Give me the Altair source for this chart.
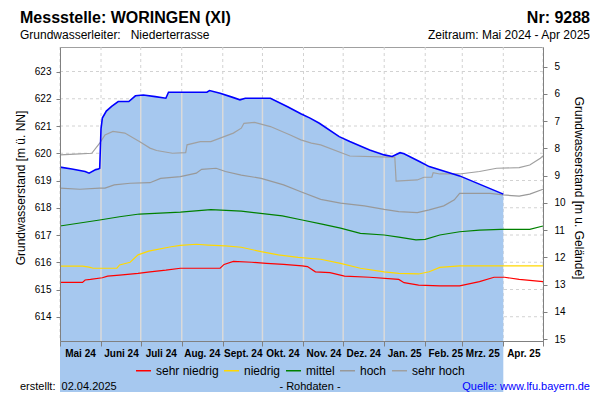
import json
import altair as alt
import numpy as np
import pandas as pd

FONT = "Liberation Sans"

# ---------------- data ----------------
GROUND_LEVEL = 628.18          # m ü. NN  (Geländehöhe)
Y_MIN, Y_MAX = 613.11, 623.90
Y_TICKS = [614, 615, 616, 617, 618, 619, 620, 621, 622, 623]
DEPTH_TICKS = [5, 6, 7, 8, 9, 10, 11, 12, 13, 14, 15]

MONTH_TICKS = ["2024-05-01", "2024-06-01", "2024-07-01", "2024-08-01", "2024-09-01",
               "2024-10-01", "2024-11-01", "2024-12-01", "2025-01-01", "2025-02-01",
               "2025-03-01", "2025-04-01", "2025-05-01"]
MONTH_ABBR = ["Jan.", "Feb.", "Mrz.", "Apr.", "Mai", "Juni", "Juli", "Aug.",
              "Sept.", "Okt.", "Nov.", "Dez."]

# measured groundwater level (blue)
mess_dates = ["2024-05-01", "2024-05-10", "2024-05-20", "2024-05-23", "2024-05-28",
              "2024-05-30", "2024-05-31", "2024-06-01", "2024-06-02", "2024-06-05",
              "2024-06-09", "2024-06-14", "2024-06-22", "2024-06-27", "2024-07-03",
              "2024-07-12", "2024-07-20", "2024-07-22", "2024-08-20", "2024-08-22",
              "2024-08-30", "2024-09-08", "2024-09-14", "2024-09-18", "2024-10-07",
              "2024-10-20", "2024-10-30", "2024-11-06", "2024-11-13", "2024-11-28",
              "2024-12-06", "2024-12-21", "2025-01-01", "2025-01-07", "2025-01-13",
              "2025-01-16", "2025-01-28", "2025-02-04", "2025-02-27", "2025-04-01"]
mess_values = [619.49, 619.42, 619.33, 619.27, 619.40,
               619.42, 619.45, 620.90, 621.29, 621.55,
               621.72, 621.90, 621.90, 622.11, 622.14,
               622.08, 622.02, 622.24, 622.24, 622.30,
               622.20, 622.06, 621.96, 622.02, 622.02,
               621.71, 621.45, 621.29, 621.10, 620.61,
               620.43, 620.12, 619.94, 619.88, 620.02,
               619.98, 619.69, 619.51, 619.17, 618.50]

SERIES = ["sehr niedrig", "niedrig", "mittel", "hoch", "sehr hoch"]
SERIES_COLORS = ["#ff0000", "#ffd800", "#008000", "#999999", "#a0a0a0"]

sn_dates = ["2024-05-01", "2024-05-18", "2024-05-20", "2024-05-24", "2024-06-02", "2024-06-06",
            "2024-06-15", "2024-06-29", "2024-07-08", "2024-07-20", "2024-07-31", "2024-08-30",
            "2024-09-02", "2024-09-09", "2024-09-23", "2024-10-04", "2024-10-17", "2024-10-31",
            "2024-11-04", "2024-11-10", "2024-11-21", "2024-12-02", "2024-12-21", "2025-01-12",
            "2025-01-16", "2025-01-27", "2025-02-12", "2025-02-27", "2025-03-14", "2025-03-25",
            "2025-04-02", "2025-04-13", "2025-05-01"]
sn_values = [615.26, 615.26, 615.35, 615.37, 615.43, 615.49,
             615.53, 615.59, 615.65, 615.71, 615.78, 615.78,
             615.92, 616.03, 616.00, 615.96, 615.92, 615.87,
             615.84, 615.65, 615.62, 615.49, 615.45, 615.37,
             615.25, 615.16, 615.13, 615.13, 615.29, 615.45,
             615.45, 615.37, 615.29]

n_dates = ["2024-05-01", "2024-05-18", "2024-05-23", "2024-05-26", "2024-06-13", "2024-06-15",
           "2024-06-23", "2024-06-29", "2024-07-07", "2024-07-24", "2024-07-31", "2024-08-12",
           "2024-08-21", "2024-09-03", "2024-09-15", "2024-09-30", "2024-10-13", "2024-10-28",
           "2024-11-14", "2024-11-29", "2024-12-14", "2025-01-01", "2025-01-12", "2025-01-27",
           "2025-02-04", "2025-02-12", "2025-02-27", "2025-05-01"]
n_values = [615.86, 615.86, 615.82, 615.78, 615.78, 615.90,
            616.00, 616.27, 616.41, 616.57, 616.62, 616.66,
            616.63, 616.60, 616.55, 616.39, 616.27, 616.18,
            616.11, 615.96, 615.78, 615.65, 615.59, 615.57,
            615.65, 615.81, 615.87, 615.87]

m_dates = ["2024-05-01", "2024-05-31", "2024-06-15", "2024-06-30", "2024-07-31", "2024-08-23",
           "2024-09-15", "2024-10-16", "2024-10-31", "2024-11-15", "2024-11-29", "2024-12-14",
           "2025-01-01", "2025-01-12", "2025-01-25", "2025-02-01", "2025-02-12", "2025-02-27",
           "2025-03-14", "2025-03-30", "2025-04-21", "2025-05-01"]
m_values = [617.33, 617.55, 617.67, 617.77, 617.84, 617.93,
            617.88, 617.70, 617.55, 617.40, 617.25, 617.06,
            617.00, 616.92, 616.82, 616.84, 617.00, 617.12,
            617.18, 617.21, 617.21, 617.33]

h_dates = ["2024-05-01", "2024-05-16", "2024-05-31", "2024-06-04", "2024-06-11", "2024-06-23",
           "2024-07-08", "2024-07-16", "2024-07-31", "2024-08-12", "2024-08-16", "2024-08-27",
           "2024-09-03", "2024-09-15", "2024-09-30", "2024-10-17", "2024-10-30", "2024-11-14",
           "2024-11-29", "2024-12-17", "2025-01-01", "2025-01-12", "2025-01-26", "2025-02-04",
           "2025-02-15", "2025-02-23", "2025-02-27", "2025-03-22", "2025-04-01", "2025-04-13",
           "2025-04-21", "2025-05-01"]
h_values = [618.72, 618.68, 618.72, 618.72, 618.84, 618.90,
            618.92, 619.08, 619.14, 619.27, 619.41, 619.45,
            619.33, 619.20, 619.08, 618.84, 618.59, 618.31,
            618.17, 618.07, 617.94, 617.86, 617.82, 617.92,
            618.07, 618.29, 618.53, 618.53, 618.47, 618.43,
            618.50, 618.68]

sh_dates = ["2024-05-01", "2024-05-16", "2024-05-25", "2024-05-31", "2024-06-04", "2024-06-10",
            "2024-06-19", "2024-06-30", "2024-07-08", "2024-07-13", "2024-07-25", "2024-08-04",
            "2024-08-05", "2024-08-15", "2024-08-23", "2024-09-09", "2024-09-15", "2024-09-17",
            "2024-09-25", "2024-10-07", "2024-10-22", "2024-10-30", "2024-11-07", "2024-11-14",
            "2024-12-06", "2025-01-05", "2025-01-09", "2025-01-10", "2025-01-26", "2025-01-31",
            "2025-02-06", "2025-02-07", "2025-02-12", "2025-02-27", "2025-03-14", "2025-03-27",
            "2025-04-13", "2025-04-21", "2025-04-29", "2025-05-01"]
sh_values = [619.94, 619.98, 620.00, 620.37, 620.67, 620.80,
             620.74, 620.43, 620.19, 620.10, 620.00, 620.02,
             620.31, 620.43, 620.43, 620.74, 620.92, 621.10,
             621.13, 620.98, 620.67, 620.49, 620.37, 620.31,
             619.90, 619.86, 619.86, 618.98, 619.02, 619.12,
             619.12, 619.29, 619.24, 619.24, 619.33, 619.45,
             619.47, 619.57, 619.82, 619.90]

# ---------------- tables ----------------
mess = pd.DataFrame({"date": pd.to_datetime(mess_dates), "level": mess_values})
mess["depth"] = GROUND_LEVEL - mess["level"]

stat_parts = []
for name, d, v in zip(SERIES, [sn_dates, n_dates, m_dates, h_dates, sh_dates],
                      [sn_values, n_values, m_values, h_values, sh_values]):
    stat_parts.append(pd.DataFrame({"serie": name, "date": pd.to_datetime(d), "level": v}))
stats = pd.concat(stat_parts, ignore_index=True)

month_dt = pd.to_datetime(MONTH_TICKS)
grid_x = pd.DataFrame({"date": month_dt})
grid_y = pd.DataFrame({"level": Y_TICKS})

# light month separators drawn over the filled area up to the measured level
t0 = mess["date"].min()
mday = (mess["date"] - t0).dt.days.values
inside = month_dt[(month_dt > mess["date"].min()) & (month_dt < mess["date"].max())]
sep = pd.DataFrame({"date": inside,
                    "level": np.interp((inside - t0).days.values, mday, mess["level"].values)})

ONE = pd.DataFrame({"k": [0]})

# ---------------- encodings ----------------
def dt(s):
    t = pd.Timestamp(s)
    return alt.DateTime(year=t.year, month=t.month, date=t.day)

label_expr = ("month(datum.value) == 4 && year(datum.value) == 2025 ? '' : "
              + json.dumps(MONTH_ABBR) + "[month(datum.value)] + ' ' + timeFormat(datum.value, '%y')")

X_AXIS = alt.Axis(values=[dt(s) for s in MONTH_TICKS], labelExpr=label_expr, labelOffset=20,
                  labelFontWeight="bold", labelFontSize=10, labelColor="#000000", labelFont=FONT,
                  tickSize=5, tickColor="#808080", domainColor="#808080", labelPadding=2,
                  grid=False, labelOverlap=False, labelFlush=False, labelAngle=0, zindex=1)
X_SCALE = alt.Scale(domain=[dt(MONTH_TICKS[0]), dt(MONTH_TICKS[-1])])

Y_AXIS = alt.Axis(values=Y_TICKS, tickSize=4, labelPadding=5, labelFontSize=10,
                  labelColor="#000000", labelFont=FONT, tickColor="#808080",
                  domainColor="#808080", grid=False, zindex=1)
Y_SCALE = alt.Scale(domain=[Y_MIN, Y_MAX], zero=False, nice=False)


def xe(field="date"):
    return alt.X(f"{field}:T", scale=X_SCALE, axis=X_AXIS, title=None)


def ye(field="level"):
    return alt.Y(f"{field}:Q", scale=Y_SCALE, axis=Y_AXIS, title=None)


GRID = "#d2d2d2"
gx = alt.Chart(grid_x).mark_rule(color=GRID, strokeDash=[3, 3], strokeWidth=1).encode(x=xe())
gy = alt.Chart(grid_y).mark_rule(color=GRID, strokeDash=[3, 3], strokeWidth=1).encode(y=ye())

area = alt.Chart(mess).mark_area(color="#a6c8ef", opacity=1).encode(x=xe(), y=ye())

seps = alt.Chart(sep).mark_rule(color="#dadada", strokeWidth=1.5).encode(
    x=xe(), y=ye(), y2=alt.datum(Y_MIN))

stat_lines = alt.Chart(stats).mark_line(strokeWidth=1.2).encode(
    x=xe(), y=ye(),
    color=alt.Color("serie:N", sort=SERIES,
                    scale=alt.Scale(domain=SERIES, range=SERIES_COLORS),
                    legend=alt.Legend(orient="none", legendX=75, legendY=315,
                                      direction="horizontal", columns=5, title=None,
                                      symbolType="stroke", symbolSize=225,
                                      symbolStrokeWidth=1.5, labelFontSize=12,
                                      labelFont=FONT, labelColor="#000000",
                                      labelOffset=4, columnPadding=2, padding=0)))

blue = alt.Chart(mess).mark_line(color="#0000ff", strokeWidth=1.6).encode(x=xe(), y=ye())


def txt(s, x, y, size=12, align="left", weight="normal", color="#000000", angle=0,
        baseline="alphabetic"):
    return alt.Chart(ONE).mark_text(text=s, align=align, baseline=baseline, fontSize=size,
                                    fontWeight=weight, color=color, angle=angle,
                                    font=FONT).encode(x=alt.value(x), y=alt.value(y))


texts = [
    txt("Messstelle: WORINGEN (XI)", -40, -24, size=16, weight="bold"),
    txt("Nr: 9288", 530, -24, size=16, weight="bold", align="right"),
    txt("Grundwasserleiter:\u00a0\u00a0 Niederterrasse", -40, -8),
    txt("Zeitraum: Mai 2024 - Apr 2025", 530, -8, align="right"),
    txt("erstellt:\u00a0\u00a002.04.2025", -40, 343, size=11),
    txt("- Rohdaten -", 250, 343, size=11, align="center"),
    txt("Quelle: www.lfu.bayern.de", 530, 343, size=11, align="right", color="#0000ff"),
    txt("Grundwasserstand [m ü. NN]", -39, 141, angle=270, align="center", baseline="middle"),
    txt("Grundwasserstand [m u. Gelände]", 519, 141, angle=90, align="center",
        baseline="middle"),
]

left = alt.layer(gx, gy, area, seps, stat_lines, blue, *texts)

right = alt.Chart(mess).mark_line(opacity=0).encode(
    x=xe(),
    y=alt.Y("depth:Q",
            scale=alt.Scale(domain=[GROUND_LEVEL - Y_MAX, GROUND_LEVEL - Y_MIN],
                            reverse=True, zero=False, nice=False),
            axis=alt.Axis(orient="right", values=DEPTH_TICKS, tickSize=4, labelPadding=7,
                          labelFontSize=10, labelColor="#000000", labelFont=FONT,
                          tickColor="#808080", domainColor="#808080", grid=False, zindex=1),
            title=None))

chart = alt.layer(left, right).resolve_scale(y="independent").properties(
    width=483, height=294,
    padding={"left": 52, "top": 39, "right": 49, "bottom": 51},
    autosize=alt.AutoSizeParams(type="none"),
).configure(font=FONT).configure_view(stroke="#a0a0a0", strokeWidth=1)

chart.save("out.html", embed_options={"renderer": "svg", "actions": False})
